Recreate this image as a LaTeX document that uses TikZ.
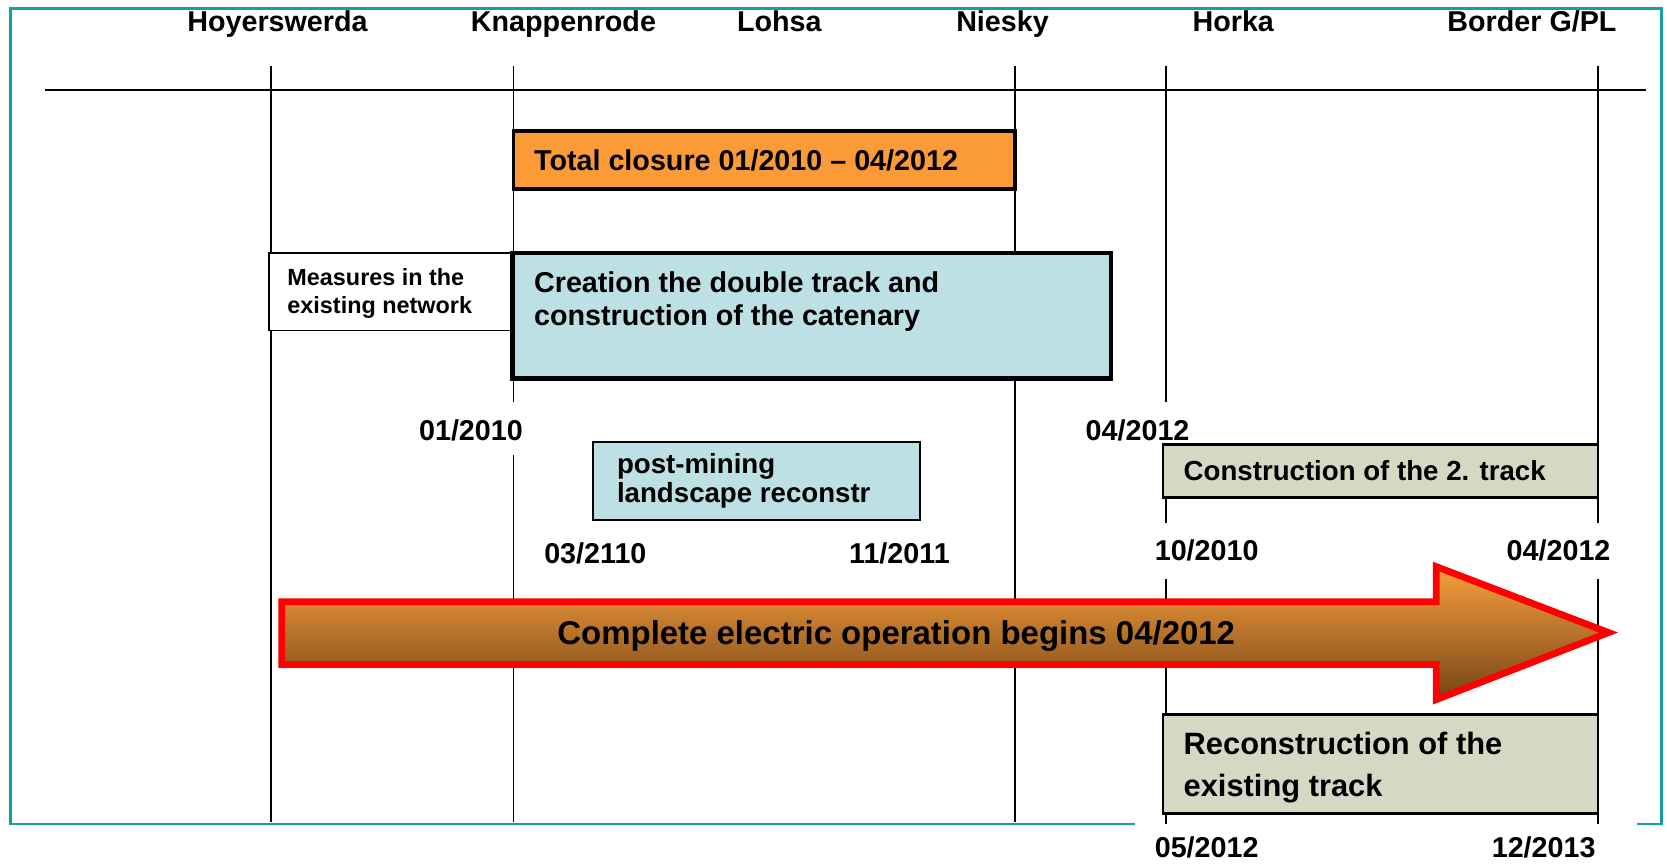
\documentclass[tikz,border=0pt]{standalone}
\usepackage{fontspec}
\setmainfont{Liberation Sans}
\usetikzlibrary{calc}
\definecolor{frameteal}{RGB}{20,160,160}
\definecolor{boxorange}{RGB}{250,155,55}
\definecolor{boxcyan}{RGB}{188,224,228}
\definecolor{boxgrey}{RGB}{214,216,196}
\definecolor{arrtop}{RGB}{248,160,60}
\definecolor{arrbot}{RGB}{118,68,24}
\def\u{0.5pt}
\newcommand{\fs}[2]{\fontsize{#1}{#2}\selectfont\bfseries}
\tikzset{
  vline/.style={line width=0.8pt, black},
  hdr/.style={font=\fs{13.5}{16}, inner sep=0pt, anchor=base},
  datelbl/.style={font=\fs{13.5}{16}, inner sep=0pt, anchor=base},
  boxtxt/.style={anchor=west, align=left, inner sep=0pt},
  bar/.style={anchor=north west, inner sep=0pt, outer sep=0pt}
}
\begin{document}
\begin{tikzpicture}[x=0.5pt, y=-0.5pt]
\useasboundingbox (0,0) rectangle (1568,812);
% frame
\draw[frameteal, line width=1.3pt] (1068,775) -- (10,775) -- (10,8) -- (1563,8) -- (1563,775) -- (1540,775);
% axis
\coordinate (axL) at (42,85);
\coordinate (axR) at (1548,85);
\draw[line width=1pt] (axL) -- (axR);
% headers
\node[hdr] (hHoy) at (261,30) {Hoyerswerda};
\node[hdr] (hKna) at (530,30) {Knappenrode};
\node[hdr] (hLoh) at (733,30) {Lohsa};
\node[hdr] (hNie) at (943,30) {Niesky};
\node[hdr] (hHor) at (1160,30) {Horka};
\node[hdr] (hBor) at (1441,30) {Border G/PL};
% vertical lines
\draw[vline] (255,62) -- (255,773);
\draw[vline] (483,62) -- (483,378);
\draw[vline] (483,428) -- (483,773);
\draw[vline] (955,62) -- (955,773);
\draw[vline] (1097,62) -- (1097,378);
\draw[vline] (1097,468) -- (1097,492);
\draw[vline] (1097,545) -- (1097,775);
\draw[vline] (1503,62) -- (1503,492);
\draw[vline] (1503,545) -- (1503,775);
% boxes
\node[bar, draw, line width=1.8pt, fill=boxorange, minimum width=472*\u, minimum height=55*\u] (total) at (483,123) {};
\node[boxtxt, font=\fs{13.5}{16}] (totalT) at (502,151) {Total closure 01/2010 -- 04/2012};
\node[bar, draw, line width=0.75pt, fill=white, minimum width=230*\u, minimum height=73*\u] (meas) at (253,238) {};
\node[boxtxt, font=\fs{11}{13.5}] (measT) at (270,276) {Measures in the\\existing network};
\node[bar, draw, line width=2pt, fill=boxcyan, minimum width=563*\u, minimum height=118*\u] (crea) at (482,238) {};
\node[boxtxt, font=\fs{13.5}{15.5}] (creaT) at (502,284) {Creation the double track and\\construction of the catenary};
\node[bar, draw, line width=1pt, fill=boxcyan, minimum width=307*\u, minimum height=73*\u] (post) at (558,416) {};
\node[boxtxt, font=\fs{13}{13.5}] (postT) at (580,452) {post-mining\\landscape reconstr};
\node[bar, draw, line width=1.3pt, fill=boxgrey, minimum width=409*\u, minimum height=50*\u] (cons) at (1094,418) {};
\node[boxtxt, font=\fs{13}{15}] (consT) at (1113,443) {Construction of the 2. track};
\node[bar, draw, line width=1.3pt, fill=boxgrey, minimum width=409*\u, minimum height=93*\u] (reco) at (1094,672) {};
\node[boxtxt, font=\fs{14.5}{19.5}] (recoT) at (1113,722) {Reconstruction of the\\existing track};
% dates
\node[datelbl] (d1) at (443,414) {01/2010};
\node[datelbl] (d2) at (1070,414) {04/2012};
\node[datelbl] (d3) at (560,530) {03/2110};
\node[datelbl] (d4) at (846,530) {11/2011};
\node[datelbl] (d5) at (1135,527) {10/2010};
\node[datelbl] (d6) at (1466,527) {04/2012};
\node[datelbl] (d7) at (1135,807) {05/2012};
\node[datelbl] (d8) at (1452,807) {12/2013};
% big arrow
\draw[red, line width=3.2pt, line join=miter, top color=arrtop, bottom color=arrbot]
  (265,566) -- (1351,566) -- (1351,533) -- (1513,595) -- (1351,658) -- (1351,625) -- (265,625) -- cycle;
\node[font=\fs{15.5}{18}, inner sep=0pt] (arrT) at (843,598) {Complete electric operation begins 04/2012};
\end{tikzpicture}
\end{document}
